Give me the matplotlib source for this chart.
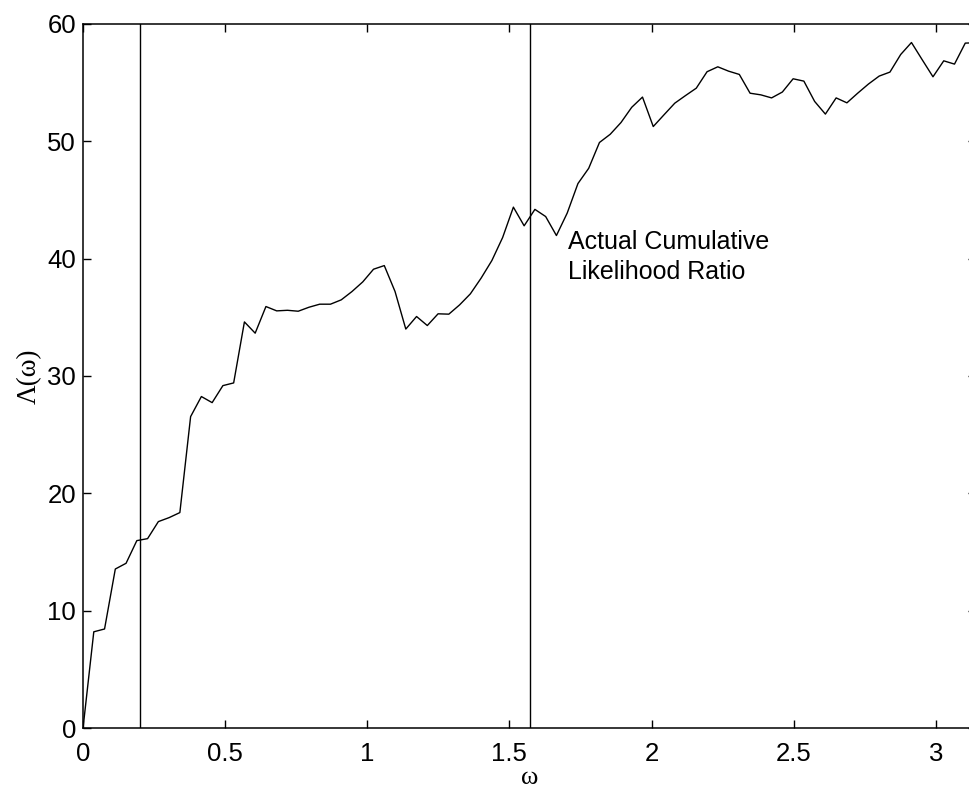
import numpy as np
import matplotlib
matplotlib.use('Agg')
import matplotlib.pyplot as plt

# Likelihood ratio values (84 points, omega from 0 to pi)
n_points = 84
lam = [0.0, 8.2, 8.44, 13.55, 14.04, 15.97, 16.14, 17.59, 17.93, 18.36,
       26.54, 28.25, 27.73, 29.18, 29.41, 34.61, 33.65, 35.92, 35.55, 35.6,
       35.52, 35.86, 36.12, 36.12, 36.49, 37.2, 38.02, 39.1, 39.41, 37.2,
       34.0, 35.07, 34.3, 35.3, 35.27, 36.06, 37.0, 38.34, 39.84, 41.8,
       44.39, 42.8, 44.2, 43.59, 41.97, 43.88, 46.4, 47.7, 49.9, 50.6,
       51.6, 52.9, 53.77, 51.26, 52.26, 53.25, 53.9, 54.53, 55.93, 56.35,
       55.98, 55.7, 54.1, 53.96, 53.7, 54.2, 55.33, 55.13, 53.4, 52.32,
       53.7, 53.28, 54.1, 54.88, 55.56, 55.9, 57.4, 58.42, 56.95, 55.5,
       56.86, 56.58, 58.37, 58.4]
omega = np.arange(n_points) * np.pi / (n_points - 1)

# vertical markers
vlines = [0.2, np.pi / 2]
note = "Actual Cumulative\nLikelihood Ratio"

fig = plt.figure(figsize=(9.7, 7.94), dpi=100)
ax = fig.add_axes([0.0856, 0.0831, 0.9206, 0.8867])

ax.plot(omega, lam, color='black', lw=1.0)
for v in vlines:
    ax.axvline(v, color='black', lw=1.0)

ax.text(1.707, 42.4, note, fontsize=18, family='Liberation Sans',
        va='top', ha='left', linespacing=1.3)

ax.set_xlim(0, np.pi)
ax.set_ylim(0, 60)
ax.set_xticks([0, 0.5, 1, 1.5, 2, 2.5, 3])
ax.set_xticklabels(['0', '0.5', '1', '1.5', '2', '2.5', '3'])
ax.set_yticks([0, 10, 20, 30, 40, 50, 60])

ax.tick_params(direction='in', length=5.8, width=1.0, top=True, right=True,
               labelsize=18.5)
ax.tick_params(axis='x', pad=10)
ax.tick_params(axis='y', pad=5)
for lab in ax.get_xticklabels() + ax.get_yticklabels():
    lab.set_family('Liberation Sans')
for s in ax.spines.values():
    s.set_linewidth(1.1)

ax.set_xlabel('ω', family='Liberation Serif', fontsize=19, labelpad=1)
ax.set_ylabel('Λ(ω)', family='Liberation Serif', fontsize=19.5, labelpad=4)

fig.savefig('out.png', dpi=100)
